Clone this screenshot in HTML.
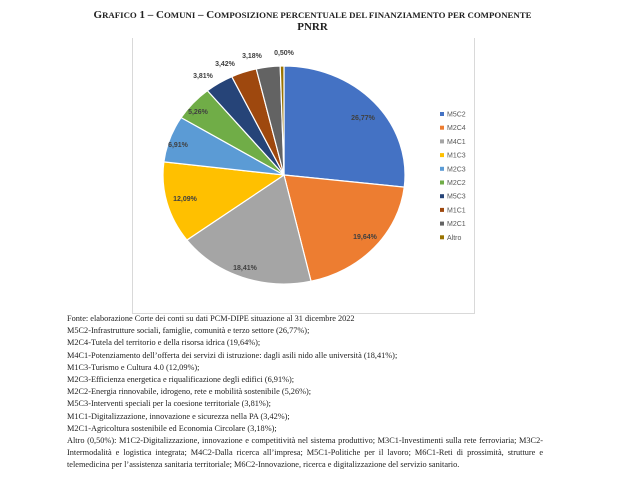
<!DOCTYPE html>
<html><head><meta charset="utf-8"><style>
body{margin:0;width:625px;height:484px;background:#fff;overflow:hidden;position:relative;font-family:"Liberation Serif",serif;}
.t{position:absolute;left:0;width:625px;text-align:center;font-weight:bold;font-size:11px;color:#222;}
.sc{font-size:8.8px;}
#box{position:absolute;left:132px;top:38px;width:341px;height:275px;border:1px solid #d9d9d9;border-top:none;}
.tx{position:absolute;left:67px;width:476px;font-size:8.3px;color:#222;line-height:12.2px;}
.tx p{margin:0;}
.j{text-align:justify;text-align-last:left;}
</style></head><body>
<div class="t" style="top:9px">G<span class="sc">RAFICO</span> 1 – C<span class="sc">OMUNI</span> – C<span class="sc">OMPOSIZIONE PERCENTUALE DEL FINANZIAMENTO PER COMPONENTE</span></div>
<div class="t" style="top:21px">PNRR</div>
<div id="box"></div>
<svg width="625" height="484" style="position:absolute;left:0;top:0" id="s">
<g id="pie"></g>
<g font-family="Liberation Sans, sans-serif" font-size="7" fill="#404040" font-weight="bold" text-anchor="middle">
<text x="363" y="120">26,77%</text>
<text x="365" y="239">19,64%</text>
<text x="245" y="270">18,41%</text>
<text x="185" y="201">12,09%</text>
<text x="178" y="147">6,91%</text>
<text x="198" y="114">5,26%</text>
<text x="203" y="78">3,81%</text>
<text x="225" y="66">3,42%</text>
<text x="252" y="58">3,18%</text>
<text x="284" y="55">0,50%</text>
</g>
<g font-family="Liberation Sans, sans-serif" font-size="7" fill="#595959" id="leg"></g>
</svg>
<div class="tx" style="top:313px">
<p>Fonte: elaborazione Corte dei conti su dati PCM-DIPE situazione al 31 dicembre 2022</p>
<p>M5C2-Infrastrutture sociali, famiglie, comunità e terzo settore (26,77%);</p>
<p>M2C4-Tutela del territorio e della risorsa idrica (19,64%);</p>
<p>M4C1-Potenziamento dell’offerta dei servizi di istruzione: dagli asili nido alle università (18,41%);</p>
<p>M1C3-Turismo e Cultura 4.0 (12,09%);</p>
<p>M2C3-Efficienza energetica e riqualificazione degli edifici (6,91%);</p>
<p>M2C2-Energia rinnovabile, idrogeno, rete e mobilità sostenibile (5,26%);</p>
<p>M5C3-Interventi speciali per la coesione territoriale (3,81%);</p>
<p>M1C1-Digitalizzazione, innovazione e sicurezza nella PA (3,42%);</p>
<p>M2C1-Agricoltura sostenibile ed Economia Circolare (3,18%);</p>
<p class="j">Altro (0,50%): M1C2-Digitalizzazione, innovazione e competitività nel sistema produttivo; M3C1-Investimenti sulla rete ferroviaria; M3C2-Intermodalità e logistica integrata; M4C2-Dalla ricerca all’impresa; M5C1-Politiche per il lavoro; M6C1-Reti di prossimità, strutture e telemedicina per l’assistenza sanitaria territoriale; M6C2-Innovazione, ricerca e digitalizzazione del servizio sanitario.</p>
</div>
<script>
var v=[26.77,19.64,18.41,12.09,6.91,5.26,3.81,3.42,3.18,0.5];
var c=["#4472c4","#ed7d31","#a5a5a5","#ffc000","#5b9bd5","#70ad47","#264478","#9e480e","#636363","#997300"];
var n=["M5C2","M2C4","M4C1","M1C3","M2C3","M2C2","M5C3","M1C1","M2C1","Altro"];
var cx=284,cy=175,rx=121,ry=109,tot=v.reduce((a,b)=>a+b),a=-Math.PI/2,h="",l="";
for(var i=0;i<v.length;i++){var b=a+v[i]/tot*2*Math.PI;
var x1=cx+rx*Math.cos(a),y1=cy+ry*Math.sin(a),x2=cx+rx*Math.cos(b),y2=cy+ry*Math.sin(b);
h+='<path d="M'+cx+' '+cy+'L'+x1+' '+y1+'A'+rx+' '+ry+' 0 '+((b-a)>Math.PI?1:0)+' 1 '+x2+' '+y2+'Z" fill="'+c[i]+'" stroke="#fff" stroke-width="1.2"/>';a=b;
var y=114+13.7*i;l+='<rect x="440" y="'+(y-2)+'" width="4" height="4" fill="'+c[i]+'"/><text x="447" y="'+(y+2.5)+'">'+n[i]+'</text>';}
document.getElementById("pie").innerHTML=h;document.getElementById("leg").innerHTML=l;
</script>
</body></html>
